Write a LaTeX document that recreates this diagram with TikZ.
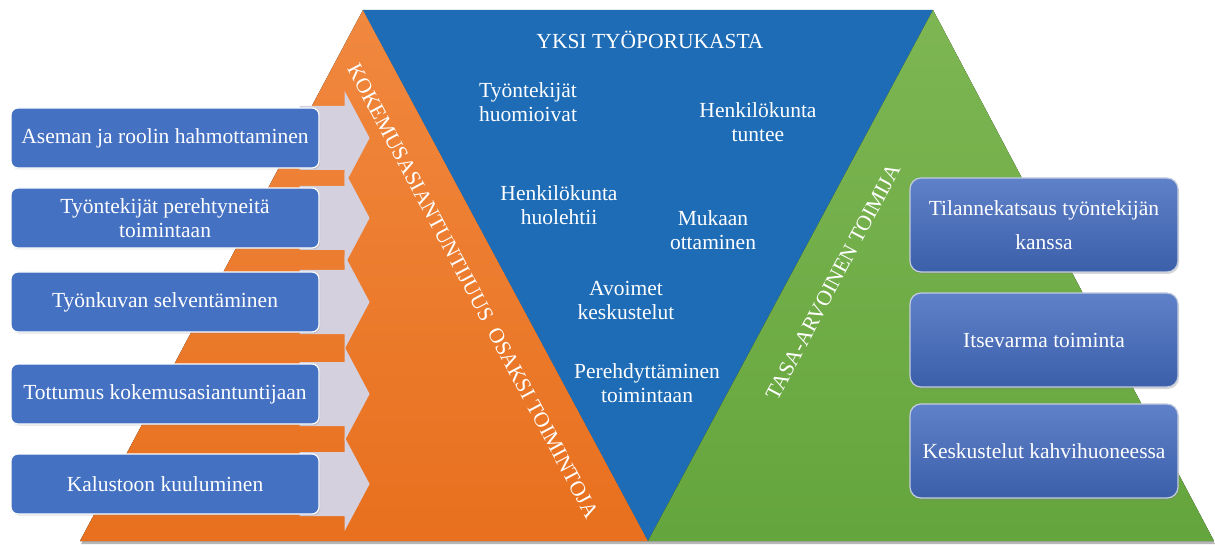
\documentclass[tikz,border=0pt]{standalone}
\usepackage{fontspec}
\setmainfont{Liberation Serif}
\usetikzlibrary{calc,shadows}
\pgfdeclarelayer{back}
\pgfdeclarelayer{mid}
\pgfsetlayers{back,mid,main}

\definecolor{orangetop}{HTML}{F0883F}
\definecolor{orangebot}{HTML}{E8701E}
\definecolor{bluetri}{HTML}{1E6CB6}
\definecolor{greentop}{HTML}{7DB653}
\definecolor{greenbot}{HTML}{65A53D}
\definecolor{boxblue}{HTML}{4571C3}
\definecolor{glosstop}{HTML}{5F81C9}
\definecolor{glossbot}{HTML}{3C5FAA}
\definecolor{glossrim}{HTML}{C4CCDF}
\definecolor{arrowgray}{HTML}{D4D0DD}

\newcommand{\labelfont}{\fontsize{21.5}{24}\selectfont}
\newcommand{\widefont}{\fontsize{21.5}{34}\selectfont}

\tikzset{
  lbox/.style={draw=white, line width=1.2pt, fill=boxblue, rounded corners=7pt,
    minimum width=308pt, minimum height=60pt, inner sep=0pt, text=white,
    align=center, font=\labelfont,
    drop shadow={shadow xshift=1pt, shadow yshift=-1.5pt, opacity=0.25}},
  rbox/.style={draw=glossrim, line width=1.2pt, top color=glosstop, bottom color=glossbot,
    rounded corners=11pt, minimum width=268pt, minimum height=94pt, inner sep=0pt,
    text=white, align=center, font=\widefont,
    drop shadow={shadow xshift=1pt, shadow yshift=-2pt, opacity=0.3}},
  intext/.style={text=white, align=center, font=\labelfont, inner sep=0pt},
  sidetext/.style={text=white, font=\fontsize{21.5}{24}\selectfont, inner sep=0pt},
  feed/.style={fill=arrowgray}
}

\begin{document}
\begin{tikzpicture}[x=1pt,y=-1pt]
\useasboundingbox (0,0) rectangle (1215,545);

% corner points of the three triangles
\coordinate (otop) at (363,10);
\coordinate (gtop) at (933,10);
\coordinate (vtip) at (648,541);
\coordinate (obase) at (80,541);
\coordinate (gbase) at (1214,541);

\begin{pgfonlayer}{back}
  % soft shadow under the whole band
  \fill[black, opacity=0.28] ($(obase)+(1,3)$) -- ($(otop)+(0,3)$) -- ($(gtop)+(0,3)$)
    -- ($(gbase)+(1,3)$) -- cycle;
  % orange, blue and green triangles
  \fill[top color=orangetop, bottom color=orangebot] (otop) -- (vtip) -- (obase) -- cycle;
  \fill[bluetri] (otop) -- (gtop) -- (vtip) -- cycle;
  \fill[top color=greentop, bottom color=greenbot] (gtop) -- (gbase) -- (vtip) -- cycle;
\end{pgfonlayer}

% left column
\node[lbox] (b1) at (165,138) {Aseman ja roolin hahmottaminen};
\node[lbox] (b2) at (165,218) {Työntekijät perehtyneitä\\toimintaan};
\node[lbox] (b3) at (165,302) {Työnkuvan selventäminen};
\node[lbox] (b4) at (165,394) {Tottumus kokemusasiantuntijaan};
\node[lbox] (b5) at (165,484) {Kalustoon kuuluminen};

% block arrows feeding the orange triangle
\begin{pgfonlayer}{mid}
  \foreach \b in {b1,b2,b3,b4,b5}{
    \fill[feed] ($(\b.east)+(-20,-32)$) -- ($(\b.east)+(25,-32)$) -- ($(\b.east)+(25,-47)$)
      -- ($(\b.east)+(50,0)$) -- ($(\b.east)+(25,47)$) -- ($(\b.east)+(25,32)$)
      -- ($(\b.east)+(-20,32)$) -- cycle;
  }
\end{pgfonlayer}

% right column
\node[rbox] (r1) at (1044,225) {Tilannekatsaus työntekijän\\kanssa};
\node[rbox] (r2) at (1044,340) {Itsevarma toiminta};
\node[rbox] (r3) at (1044,451) {Keskustelut kahvihuoneessa};

% titles along the triangle edges
\node[sidetext, rotate=-62] (kok) at (473,291) {KOKEMUSASIANTUNTIJUUS\ \ OSAKSI TOIMINTOJA};
\node[sidetext, rotate=62] (tasa) at (833,282) {TASA-ARVOINEN TOIMIJA};

% inside the blue triangle
\node[intext] (yksi) at (650,40) {YKSI TYÖPORUKASTA};
\node[intext] (t1) at (528,102) {Työntekijät\\huomioivat};
\node[intext] (t2) at (758,122) {Henkilökunta\\tuntee};
\node[intext] (t3) at (559,205) {Henkilökunta\\huolehtii};
\node[intext] (t4) at (713,230) {Mukaan\\ottaminen};
\node[intext] (t5) at (626,300) {Avoimet\\keskustelut};
\node[intext] (t6) at (647,383) {Perehdyttäminen\\toimintaan};
\end{tikzpicture}
\end{document}
